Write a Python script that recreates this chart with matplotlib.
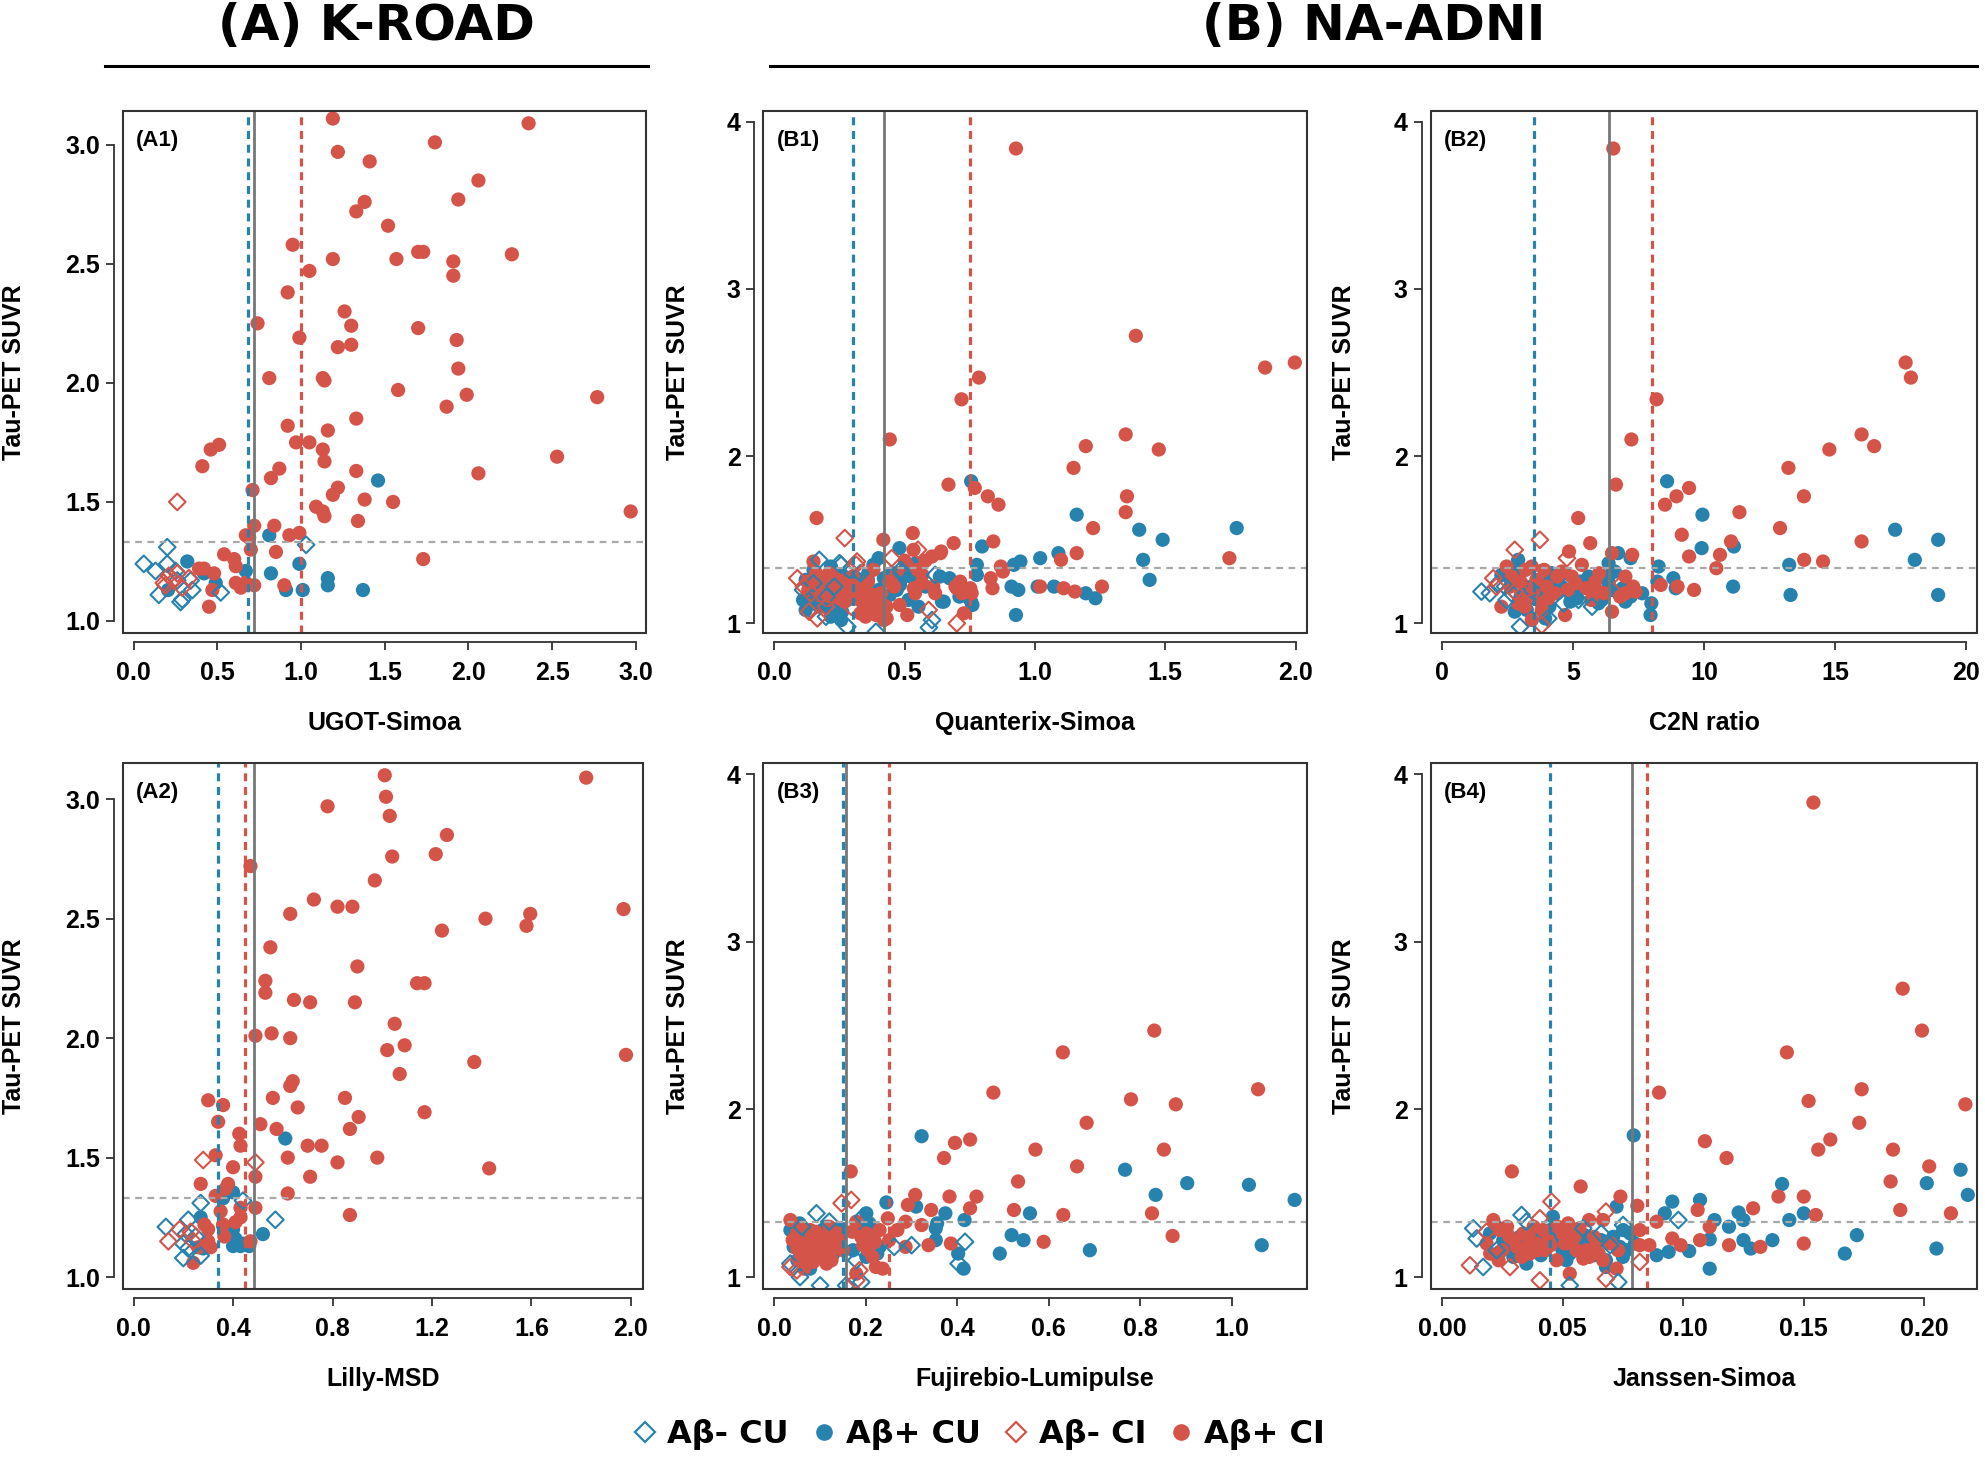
import numpy as np
import matplotlib
matplotlib.use('Agg')
import matplotlib.pyplot as plt
from matplotlib.lines import Line2D
from matplotlib.patches import Rectangle

BLUE = '#2782ae'
RED = '#d5544a'

# threshold of tau-PET positivity
tau_cut = 1.33

# ---------- (A1) K-ROAD, UGOT-Simoa ----------
a1_neg_cu = [(0.06, 1.24), (0.13, 1.21), (0.20, 1.31), (0.20, 1.24), (0.15, 1.11), (0.28, 1.08), (0.29, 1.09),
             (0.34, 1.17), (0.35, 1.13), (0.52, 1.12), (1.03, 1.32), (0.26, 1.17), (0.25, 1.21)]
a1_pos_cu = [(1.46, 1.59), (0.81, 1.36), (0.99, 1.24), (0.82, 1.20), (1.16, 1.18), (1.16, 1.15), (0.91, 1.13),
             (1.01, 1.13), (1.37, 1.13), (0.32, 1.25), (0.205, 1.13), (0.49, 1.16), (0.67, 1.21), (0.42, 1.20)]
a1_neg_ci = [(0.26, 1.50), (0.18, 1.16), (0.21, 1.19), (0.26, 1.20), (0.19, 1.15), (0.29, 1.14), (0.33, 1.18),
             (0.24, 1.17)]
a1_pos_ci = [(1.19, 3.11), (2.36, 3.09), (1.80, 3.01), (1.22, 2.97), (1.41, 2.93), (2.06, 2.85), (1.94, 2.77),
             (1.38, 2.76), (1.33, 2.72), (1.52, 2.66), (0.95, 2.58), (1.70, 2.55), (1.73, 2.55), (2.26, 2.54),
             (1.19, 2.52), (1.57, 2.52), (1.91, 2.51), (1.05, 2.47), (1.91, 2.45), (0.92, 2.38), (1.26, 2.30),
             (0.74, 2.25), (1.30, 2.24), (1.70, 2.23), (0.99, 2.19), (1.93, 2.18), (1.30, 2.16), (1.22, 2.15),
             (1.94, 2.06), (0.81, 2.02), (1.13, 2.02), (1.14, 2.01), (1.58, 1.97), (1.99, 1.95), (2.77, 1.94),
             (1.87, 1.90), (1.33, 1.85), (0.92, 1.82), (1.16, 1.80), (0.97, 1.75), (1.05, 1.75), (0.51, 1.74),
             (0.46, 1.72), (1.13, 1.72), (1.14, 1.67), (2.53, 1.69), (0.41, 1.65), (0.87, 1.64), (1.33, 1.63),
             (2.06, 1.62), (0.82, 1.60), (1.22, 1.56), (0.71, 1.55), (1.19, 1.53), (1.38, 1.51), (1.55, 1.50),
             (1.09, 1.48), (1.13, 1.46), (2.97, 1.46), (1.14, 1.44), (1.34, 1.42), (0.72, 1.40), (0.84, 1.40),
             (0.67, 1.36), (0.69, 1.35), (0.93, 1.36), (0.99, 1.37), (0.70, 1.30), (0.85, 1.29), (0.54, 1.28),
             (0.60, 1.26), (1.73, 1.26), (0.61, 1.23), (0.39, 1.22), (0.42, 1.22), (0.48, 1.20), (0.61, 1.16),
             (0.67, 1.16), (0.72, 1.15), (0.90, 1.15), (0.64, 1.14), (0.47, 1.13), (0.45, 1.06), (0.66, 1.15)]
a1_cuts = (0.68, 0.72, 1.00)   # CU cut-off, overall cut-off, CI cut-off

# ---------- (A2) K-ROAD, Lilly-MSD ----------
a2_neg_cu = [(0.13, 1.21), (0.22, 1.24), (0.27, 1.31), (0.44, 1.32), (0.57, 1.24), (0.20, 1.14), (0.20, 1.08),
             (0.27, 1.09), (0.22, 1.12), (0.21, 1.18), (0.25, 1.17)]
a2_pos_cu = [(0.61, 1.58), (0.40, 1.355), (0.27, 1.25), (0.40, 1.20), (0.41, 1.16), (0.43, 1.13), (0.52, 1.18),
             (0.40, 1.13), (0.28, 1.12), (0.465, 1.13), (0.44, 1.14), (0.36, 1.215), (0.36, 1.33)]
a2_neg_ci = [(0.28, 1.49), (0.49, 1.48), (0.185, 1.20), (0.14, 1.15), (0.23, 1.19), (0.24, 1.15)]
a2_pos_ci = [(1.01, 3.10), (1.82, 3.09), (1.015, 3.01), (0.78, 2.97), (1.03, 2.93), (1.26, 2.85), (1.215, 2.77),
             (1.04, 2.76), (0.47, 2.72), (0.97, 2.66), (0.725, 2.58), (0.82, 2.55), (0.88, 2.55), (1.97, 2.54),
             (0.63, 2.52), (1.595, 2.52), (1.415, 2.50), (1.58, 2.47), (1.24, 2.45), (0.55, 2.38), (0.90, 2.30),
             (0.53, 2.24), (1.14, 2.23), (1.17, 2.23), (0.53, 2.19), (0.645, 2.16), (0.71, 2.15), (0.89, 2.15),
             (1.05, 2.06), (0.49, 2.01), (0.555, 2.02), (0.63, 2.00), (1.09, 1.97), (1.02, 1.95), (1.37, 1.90),
             (1.98, 1.93), (1.07, 1.85), (0.64, 1.82), (0.63, 1.80), (0.30, 1.74), (0.36, 1.72), (0.56, 1.75),
             (0.85, 1.75), (0.66, 1.71), (1.17, 1.69), (0.905, 1.67), (0.34, 1.65), (0.51, 1.64), (0.575, 1.62),
             (0.87, 1.62), (0.425, 1.60), (0.43, 1.55), (0.70, 1.55), (0.756, 1.55), (0.33, 1.51), (0.62, 1.50),
             (0.98, 1.50), (0.82, 1.48), (1.43, 1.455), (0.40, 1.46), (0.49, 1.42), (0.71, 1.42), (0.27, 1.39),
             (0.38, 1.39), (0.37, 1.37), (0.62, 1.35), (0.33, 1.34), (0.43, 1.29), (0.49, 1.29), (0.87, 1.26),
             (0.35, 1.275), (0.43, 1.25), (0.285, 1.22), (0.36, 1.22), (0.30, 1.20), (0.41, 1.23), (0.365, 1.17),
             (0.30, 1.15), (0.31, 1.125), (0.47, 1.15), (0.24, 1.06), (0.26, 1.125)]
a2_cuts = (0.338, 0.486, 0.45)

# ---------- (B1) NA-ADNI, Quanterix-Simoa ----------
b1_neg_cu = [(0.172, 1.38), (0.256, 1.35), (0.11, 1.20), (0.127, 1.14), (0.14, 1.08), (0.198, 1.04), (0.28, 0.98),
             (0.39, 0.95), (0.488, 1.30), (0.617, 1.29), (0.605, 1.02), (0.288, 1.32), (0.593, 0.975), (0.25, 1.36),
             (0.485, 1.32), (0.15, 1.24), (0.20, 1.16), (0.23, 1.22), (0.33, 1.30)]
b1_pos_cu = [(0.755, 1.85), (1.16, 1.65), (1.774, 1.57), (1.40, 1.56), (1.49, 1.50), (0.797, 1.46), (0.48, 1.45),
             (1.09, 1.42), (1.415, 1.38), (1.02, 1.39), (0.944, 1.37), (0.919, 1.35), (0.777, 1.35), (1.44, 1.26),
             (0.777, 1.29), (0.635, 1.28), (0.672, 1.27), (0.91, 1.22), (0.936, 1.20), (1.01, 1.22), (1.073, 1.22),
             (1.195, 1.18), (1.232, 1.15), (0.643, 1.13), (0.71, 1.16), (0.755, 1.13), (0.927, 1.05), (0.40, 1.39),
             (0.543, 1.36), (0.526, 1.28), (0.359, 1.26), (0.346, 1.21), (0.165, 1.28), (0.153, 1.18), (0.19, 1.18),
             (0.14, 1.12), (0.11, 1.14), (0.172, 1.10), (0.243, 1.12), (0.28, 1.14), (0.23, 1.06), (0.217, 1.04),
             (0.256, 1.02), (0.217, 1.34), (0.314, 1.27), (0.40, 1.20), (0.443, 1.17), (0.482, 1.23), (0.50, 1.28),
             (0.58, 1.22), (0.65, 1.13), (0.553, 1.10), (0.515, 1.14), (0.747, 1.15), (0.76, 1.11),
             (0.12, 1.26), (0.15, 1.32), (0.18, 1.14), (0.21, 1.09), (0.24, 1.18), (0.26, 1.29), (0.30, 1.22),
             (0.33, 1.15), (0.36, 1.30), (0.38, 1.35), (0.42, 1.27), (0.45, 1.30), (0.47, 1.20), (0.12, 1.08),
             (0.26, 1.07)]
b1_neg_ci = [(0.27, 1.51), (0.314, 1.35), (0.45, 1.39), (0.088, 1.27), (0.113, 1.22), (0.14, 1.18), (0.133, 1.07),
             (0.165, 1.03), (0.198, 1.10), (0.314, 1.16), (0.295, 1.10), (0.592, 1.08), (0.70, 1.00), (0.551, 1.44),
             (0.317, 1.37)]
b1_pos_ci = [(0.927, 3.84), (1.387, 2.72), (1.883, 2.53), (1.997, 2.56), (0.785, 2.47), (0.718, 2.34), (0.443, 2.10),
             (1.348, 2.13), (1.195, 2.06), (1.475, 2.04), (1.148, 1.93), (0.668, 1.83), (0.769, 1.81), (0.819, 1.76),
             (1.353, 1.76), (0.86, 1.71), (1.348, 1.665), (0.162, 1.63), (1.223, 1.57), (0.531, 1.54), (0.418, 1.50),
             (0.688, 1.48), (0.84, 1.49), (0.64, 1.43), (0.534, 1.44), (1.16, 1.42), (1.746, 1.39), (1.10, 1.38),
             (0.58, 1.375), (0.50, 1.375), (0.869, 1.34), (0.877, 1.31), (0.15, 1.37), (0.568, 1.29), (0.713, 1.25),
             (0.83, 1.27), (0.752, 1.21), (0.535, 1.21), (0.61, 1.22), (0.70, 1.21), (1.02, 1.22), (1.11, 1.21),
             (1.153, 1.19), (1.257, 1.22), (0.481, 1.11), (0.51, 1.05), (0.431, 1.03), (0.727, 1.06), (0.127, 1.25),
             (0.165, 1.22), (0.198, 1.27), (0.23, 1.18), (0.27, 1.19), (0.204, 1.14), (0.243, 1.27), (0.288, 1.20),
             (0.32, 1.18), (0.359, 1.16), (0.385, 1.12), (0.372, 1.09), (0.34, 1.12), (0.41, 1.12), (0.42, 1.02),
             (0.359, 1.25), (0.38, 1.32), (0.46, 1.22), (0.508, 1.35), (0.566, 1.24), (0.54, 1.18), (0.605, 1.40),
             (0.637, 1.42), (0.617, 1.18), (0.695, 1.22), (0.72, 1.18), (0.757, 1.18), (0.837, 1.21), (0.16, 1.30),
             (0.22, 1.23), (0.30, 1.28), (0.25, 1.15), (0.39, 1.14), (0.36, 1.10), (0.40, 1.08), (0.33, 1.06),
             (0.13, 1.20), (0.18, 1.25), (0.21, 1.30), (0.26, 1.24), (0.29, 1.16), (0.31, 1.22), (0.35, 1.19),
             (0.37, 1.14), (0.38, 1.17), (0.40, 1.15), (0.41, 1.18), (0.43, 1.10), (0.39, 1.05), (0.35, 1.04),
             (0.17, 1.17), (0.20, 1.21), (0.27, 1.13), (0.44, 1.25), (0.47, 1.30), (0.55, 1.32)]
b1_cuts = (0.30, 0.42, 0.75)

# ---------- (B2) NA-ADNI, C2N ratio ----------
b2_neg_cu = [(1.51, 1.19), (1.83, 1.18), (2.15, 1.24), (2.41, 1.22), (2.66, 1.18), (2.47, 1.14), (2.98, 0.98),
             (4.06, 1.03), (5.73, 1.10), (4.64, 1.12), (5.21, 1.14), (3.43, 1.20)]
b2_pos_cu = [(8.59, 1.85), (9.94, 1.65), (17.29, 1.56), (18.93, 1.50), (9.91, 1.45), (11.14, 1.46), (13.25, 1.35),
             (18.04, 1.38), (8.27, 1.34), (8.83, 1.27), (11.11, 1.22), (13.30, 1.17), (18.93, 1.17), (7.96, 1.05),
             (7.99, 1.12), (7.2, 1.39), (6.72, 1.42), (8.22, 1.25), (8.92, 1.21), (6.36, 1.36), (6.36, 1.28),
             (6.36, 1.24), (5.98, 1.12), (5.6, 1.28), (5.16, 1.15), (4.9, 1.13), (4.19, 1.30), (4.19, 1.22),
             (2.78, 1.07), (2.91, 1.38), (2.78, 1.31), (3.69, 1.20), (3.94, 1.24), (4.57, 1.22), (7.64, 1.18),
             (7.0, 1.13), (6.49, 1.20), (2.27, 1.29), (3.24, 1.08), (3.94, 1.03),
             (2.4, 1.30), (2.9, 1.25), (3.2, 1.22), (3.5, 1.15), (4.4, 1.18), (4.7, 1.30), (5.3, 1.25),
             (5.8, 1.20), (6.1, 1.14), (6.9, 1.21), (3.0, 1.16), (4.1, 1.10), (5.0, 1.19), (6.6, 1.31),
             (7.2, 1.16)]
b2_neg_ci = [(3.74, 1.50), (2.78, 1.44), (1.96, 1.27), (2.08, 1.22), (2.78, 1.19), (3.10, 1.18), (3.30, 1.28),
             (3.74, 1.30), (3.81, 0.99), (6.87, 1.24), (4.77, 1.39), (3.62, 1.23)]
b2_pos_ci = [(6.54, 3.84), (17.69, 2.56), (17.89, 2.47), (8.19, 2.34), (16.01, 2.13), (16.49, 2.06), (14.78, 2.04),
             (7.23, 2.10), (13.22, 1.93), (6.64, 1.83), (9.43, 1.81), (8.95, 1.76), (13.81, 1.76), (8.51, 1.71),
             (11.35, 1.665), (5.2, 1.63), (12.9, 1.57), (9.15, 1.53), (11.03, 1.49), (16.01, 1.49), (9.43, 1.40),
             (10.61, 1.41), (13.82, 1.38), (14.54, 1.37), (10.47, 1.33), (8.35, 1.23), (8.99, 1.22), (9.62, 1.20),
             (5.66, 1.48), (4.85, 1.43), (2.47, 1.34), (3.43, 1.34), (5.34, 1.35), (6.49, 1.42), (7.26, 1.41),
             (7.0, 1.28), (5.85, 1.25), (5.98, 1.19), (4.96, 1.28), (4.57, 1.31), (4.32, 1.18), (4.06, 1.15),
             (3.81, 1.12), (3.49, 1.19), (3.17, 1.10), (3.43, 1.02), (3.81, 1.08), (4.70, 1.05), (6.49, 1.07),
             (7.0, 1.18), (7.39, 1.19), (2.66, 1.28), (2.27, 1.10),
             (2.6, 1.22), (3.0, 1.25), (3.2, 1.32), (3.6, 1.26), (4.0, 1.22), (4.4, 1.28), (4.8, 1.20),
             (5.1, 1.24), (5.5, 1.21), (6.0, 1.30), (6.2, 1.18), (5.7, 1.14), (3.3, 1.16), (2.9, 1.12),
             (3.9, 1.32), (7.3, 1.22), (6.8, 1.16)]
b2_cuts = (3.52, 6.36, 8.02)

# ---------- (B3) NA-ADNI, Fujirebio-Lumipulse ----------
b3_neg_cu = [(0.092, 1.38), (0.035, 1.08), (0.056, 1.00), (0.10, 0.95), (0.157, 0.95), (0.19, 0.97), (0.262, 1.18),
             (0.30, 1.19), (0.417, 1.21), (0.403, 1.08), (0.179, 1.10), (0.194, 1.36), (0.06, 1.30), (0.12, 1.33)]
b3_pos_cu = [(0.322, 1.84), (0.767, 1.64), (0.903, 1.56), (1.038, 1.55), (1.138, 1.46), (0.834, 1.49), (0.245, 1.445),
             (0.31, 1.42), (0.374, 1.38), (0.559, 1.38), (0.416, 1.34), (0.353, 1.29), (0.353, 1.22), (0.519, 1.25),
             (0.545, 1.22), (0.493, 1.14), (0.69, 1.16), (1.066, 1.19), (0.402, 1.14), (0.414, 1.05), (0.035, 1.28),
             (0.042, 1.18), (0.071, 1.24), (0.092, 1.14), (0.114, 1.30), (0.129, 1.14), (0.143, 1.24), (0.056, 1.16),
             (0.078, 1.05), (0.10, 1.22), (0.201, 1.38), (0.208, 1.32), (0.23, 1.18), (0.201, 1.12), (0.172, 1.16),
             (0.356, 1.32),
             (0.045, 1.24), (0.055, 1.32), (0.06, 1.20), (0.075, 1.13), (0.085, 1.26), (0.095, 1.16), (0.105, 1.28),
             (0.115, 1.21), (0.125, 1.27), (0.135, 1.18), (0.145, 1.29), (0.05, 1.10), (0.185, 1.30), (0.195, 1.22),
             (0.215, 1.27), (0.225, 1.14)]
b3_neg_ci = [(0.147, 1.44), (0.168, 1.46), (0.035, 1.06), (0.049, 1.04), (0.186, 1.04), (0.179, 0.98), (0.071, 1.12)]
b3_pos_ci = [(0.831, 2.47), (0.631, 2.34), (0.479, 2.10), (1.058, 2.12), (0.78, 2.06), (0.878, 2.03), (0.683, 1.92),
             (0.571, 1.76), (0.852, 1.76), (0.395, 1.80), (0.428, 1.82), (0.371, 1.71), (0.662, 1.66), (0.533, 1.57),
             (0.167, 1.63), (0.308, 1.49), (0.383, 1.48), (0.442, 1.48), (0.292, 1.43), (0.343, 1.40), (0.428, 1.41),
             (0.524, 1.40), (0.632, 1.37), (0.826, 1.38), (0.322, 1.31), (0.287, 1.18), (0.337, 1.19), (0.386, 1.20),
             (0.589, 1.21), (0.871, 1.245), (0.035, 1.34), (0.049, 1.26), (0.064, 1.20), (0.078, 1.28), (0.092, 1.18),
             (0.107, 1.24), (0.118, 1.14), (0.129, 1.22), (0.139, 1.26), (0.15, 1.16), (0.056, 1.11), (0.085, 1.09),
             (0.114, 1.08), (0.179, 1.33), (0.201, 1.26), (0.212, 1.20), (0.194, 1.19), (0.222, 1.06), (0.237, 1.05),
             (0.179, 1.02), (0.251, 1.22), (0.248, 1.35), (0.269, 1.28), (0.287, 1.33),
             (0.04, 1.22), (0.06, 1.30), (0.07, 1.15), (0.08, 1.22), (0.09, 1.27), (0.10, 1.12), (0.11, 1.19),
             (0.12, 1.30), (0.13, 1.17), (0.14, 1.21), (0.05, 1.17), (0.065, 1.05), (0.095, 1.21), (0.125, 1.10),
             (0.19, 1.24), (0.205, 1.16), (0.22, 1.21), (0.23, 1.28), (0.215, 1.12), (0.17, 1.27)]
b3_cuts = (0.150, 0.157, 0.25)

# ---------- (B4) NA-ADNI, Janssen-Simoa ----------
b4_neg_cu = [(0.013, 1.29), (0.0144, 1.23), (0.0171, 1.06), (0.033, 1.37), (0.035, 1.33), (0.053, 0.95),
             (0.0586, 1.29), (0.066, 1.26), (0.0697, 1.19), (0.0731, 0.97), (0.0751, 1.31), (0.098, 1.34),
             (0.0227, 1.16)]
b4_pos_cu = [(0.0795, 1.845), (0.141, 1.555), (0.201, 1.56), (0.215, 1.64), (0.218, 1.49), (0.107, 1.46),
             (0.0955, 1.45), (0.150, 1.38), (0.144, 1.34), (0.123, 1.385), (0.125, 1.34), (0.119, 1.30),
             (0.172, 1.25), (0.137, 1.22), (0.125, 1.22), (0.128, 1.17), (0.167, 1.14), (0.205, 1.17), (0.111, 1.05),
             (0.1025, 1.155), (0.111, 1.225), (0.089, 1.13), (0.094, 1.15), (0.0226, 1.30), (0.0254, 1.22),
             (0.0296, 1.12), (0.0323, 1.24), (0.035, 1.08), (0.0378, 1.18), (0.0406, 1.22), (0.0448, 1.28),
             (0.046, 1.36), (0.0475, 1.20), (0.050, 1.16), (0.0516, 1.10), (0.057, 1.22), (0.061, 1.18),
             (0.068, 1.10), (0.068, 1.06), (0.0724, 1.42), (0.0751, 1.28), (0.078, 1.26), (0.0737, 1.18),
             (0.0765, 1.16), (0.0924, 1.38), (0.113, 1.34), (0.0199, 1.26), (0.0268, 1.18),
             (0.024, 1.15), (0.027, 1.26), (0.031, 1.20), (0.034, 1.16), (0.037, 1.26), (0.041, 1.13),
             (0.043, 1.24), (0.049, 1.26), (0.053, 1.14), (0.056, 1.19), (0.059, 1.25), (0.063, 1.13),
             (0.066, 1.22), (0.071, 1.24), (0.075, 1.12), (0.080, 1.20)]
b4_neg_ci = [(0.0116, 1.07), (0.0185, 1.27), (0.0406, 1.35), (0.0454, 1.45), (0.068, 1.39), (0.068, 0.99),
             (0.082, 1.09), (0.0406, 0.98), (0.0282, 1.06)]
b4_pos_ci = [(0.154, 3.83), (0.191, 2.72), (0.199, 2.47), (0.143, 2.34), (0.090, 2.10), (0.174, 2.12), (0.152, 2.05),
             (0.217, 2.03), (0.173, 1.92), (0.109, 1.81), (0.161, 1.82), (0.156, 1.76), (0.187, 1.76), (0.118, 1.71),
             (0.202, 1.66), (0.029, 1.63), (0.186, 1.57), (0.0575, 1.54), (0.1395, 1.48), (0.150, 1.48),
             (0.074, 1.48), (0.19, 1.40), (0.211, 1.38), (0.155, 1.37), (0.106, 1.40), (0.129, 1.41),
             (0.081, 1.425), (0.107, 1.22), (0.119, 1.19), (0.132, 1.18), (0.150, 1.20), (0.0955, 1.23),
             (0.099, 1.19), (0.0213, 1.34), (0.024, 1.28), (0.028, 1.24), (0.031, 1.18), (0.0337, 1.26),
             (0.0365, 1.14), (0.039, 1.20), (0.042, 1.28), (0.043, 1.16), (0.0475, 1.10), (0.050, 1.26),
             (0.0523, 1.32), (0.053, 1.22), (0.0544, 1.27), (0.0558, 1.16), (0.053, 1.02), (0.0586, 1.11),
             (0.061, 1.34), (0.061, 1.12), (0.064, 1.20), (0.0668, 1.10), (0.0668, 1.34), (0.0724, 1.05),
             (0.082, 1.28), (0.082, 1.19), (0.086, 1.19), (0.089, 1.33), (0.111, 1.30), (0.0185, 1.20),
             (0.020, 1.14), (0.0235, 1.10), (0.035, 1.18), (0.045, 1.19),
             (0.025, 1.16), (0.027, 1.30), (0.030, 1.22), (0.033, 1.12), (0.036, 1.24), (0.038, 1.30),
             (0.040, 1.16), (0.044, 1.22), (0.048, 1.30), (0.051, 1.20), (0.055, 1.24), (0.057, 1.29),
             (0.060, 1.16), (0.063, 1.24), (0.065, 1.14), (0.070, 1.20), (0.073, 1.16)]
b4_cuts = (0.045, 0.079, 0.085)

plt.rcParams['font.family'] = ['Liberation Sans', 'DejaVu Sans']
plt.rcParams['font.weight'] = 'bold'

fig = plt.figure(figsize=(19.85, 14.62), dpi=100)


def draw_panel(rect, groups, cuts, xlim, ylim, xticks, yticks, xfmt, yfmt, xlabel, tag, ylab_x):
    ax = fig.add_axes(rect)
    neg_cu, pos_cu, neg_ci, pos_ci = [np.array(g) for g in groups]
    ax.scatter(pos_cu[:, 0], pos_cu[:, 1], s=105, color=BLUE, edgecolors='none', zorder=2)
    ax.scatter(pos_ci[:, 0], pos_ci[:, 1], s=105, color=RED, edgecolors='none', zorder=2)
    ax.scatter(neg_cu[:, 0], neg_cu[:, 1], s=72, marker='D', facecolors='none', edgecolors=BLUE,
               linewidths=1.5, zorder=2)
    ax.scatter(neg_ci[:, 0], neg_ci[:, 1], s=72, marker='D', facecolors='none', edgecolors=RED,
               linewidths=1.5, zorder=2)

    ax.axvline(cuts[0], color=BLUE, ls=(0, (2.5, 1.8)), lw=2.3, zorder=3)
    ax.axvline(cuts[1], color='#777777', lw=2.0, zorder=3)
    ax.axvline(cuts[2], color=RED, ls=(0, (2.5, 1.8)), lw=2.3, zorder=3)
    ax.axhline(tau_cut, color='#a8a8a8', ls=(0, (3, 2.5)), lw=1.6, zorder=3)

    ax.set_xlim(*xlim)
    ax.set_ylim(*ylim)
    ax.set_xticks(xticks)
    ax.set_yticks(yticks)
    ax.set_xticklabels([xfmt.format(v) for v in xticks])
    ax.set_yticklabels([yfmt.format(v) for v in yticks])

    for s in ['top', 'right']:
        ax.spines[s].set_visible(False)
    for s in ['left', 'bottom']:
        ax.spines[s].set_position(('outward', 6.5))
        ax.spines[s].set_color('#333333')
        ax.spines[s].set_linewidth(1.3)
    ax.spines['left'].set_bounds(yticks[0], yticks[-1])
    ax.spines['bottom'].set_bounds(xticks[0], xticks[-1])
    ax.add_patch(Rectangle((0, 0), 1, 1, transform=ax.transAxes, fill=False, ec='#333333', lw=1.5,
                           zorder=4, clip_on=False))

    ax.tick_params(axis='both', direction='out', length=6, width=1.3, color='#333333', labelsize=18)
    ax.tick_params(axis='x', pad=8)
    ax.tick_params(axis='y', pad=4)

    ax.set_xlabel(xlabel, fontsize=18, fontweight='bold')
    ax.xaxis.set_label_coords(0.5, -0.15)
    ax.set_ylabel('Tau-PET SUVR', fontsize=18, fontweight='bold')
    ax.yaxis.set_label_coords(ylab_x, 0.5)
    ax.text(0.025, 0.965, tag, transform=ax.transAxes, ha='left', va='top', fontsize=16, fontweight='bold')
    return ax


row1_b, row1_h = 0.5671, 0.3567
row2_b, row2_h = 0.1186, 0.3593

draw_panel([0.0619, row1_b, 0.2634, row1_h], [a1_neg_cu, a1_pos_cu, a1_neg_ci, a1_pos_ci], a1_cuts,
           (-0.065, 3.06), (0.95, 3.14), [0, 0.5, 1.0, 1.5, 2.0, 2.5, 3.0], [1.0, 1.5, 2.0, 2.5, 3.0],
           '{:.1f}', '{:.1f}', 'UGOT-Simoa', '(A1)', -0.186)
draw_panel([0.3846, row1_b, 0.2736, row1_h], [b1_neg_cu, b1_pos_cu, b1_neg_ci, b1_pos_ci], b1_cuts,
           (-0.042, 2.042), (0.943, 4.062), [0, 0.5, 1.0, 1.5, 2.0], [1, 2, 3, 4],
           '{:.1f}', '{:.0f}', 'Quanterix-Simoa', '(B1)', -0.135)
draw_panel([0.7207, row1_b, 0.2755, row1_h], [b2_neg_cu, b2_pos_cu, b2_neg_ci, b2_pos_ci], b2_cuts,
           (-0.43, 20.43), (0.943, 4.062), [0, 5, 10, 15, 20], [1, 2, 3, 4],
           '{:.0f}', '{:.0f}', 'C2N ratio', '(B2)', -0.137)
draw_panel([0.0619, row2_b, 0.2621, row2_h], [a2_neg_cu, a2_pos_cu, a2_neg_ci, a2_pos_ci], a2_cuts,
           (-0.043, 2.049), (0.952, 3.15), [0, 0.4, 0.8, 1.2, 1.6, 2.0], [1.0, 1.5, 2.0, 2.5, 3.0],
           '{:.1f}', '{:.1f}', 'Lilly-MSD', '(A2)', -0.186)
draw_panel([0.3846, row2_b, 0.2736, row2_h], [b3_neg_cu, b3_pos_cu, b3_neg_ci, b3_pos_ci], b3_cuts,
           (-0.024, 1.164), (0.931, 4.064), [0, 0.2, 0.4, 0.6, 0.8, 1.0], [1, 2, 3, 4],
           '{:.1f}', '{:.0f}', 'Fujirebio-Lumipulse', '(B3)', -0.135)
draw_panel([0.7207, row2_b, 0.2755, row2_h], [b4_neg_cu, b4_pos_cu, b4_neg_ci, b4_pos_ci], b4_cuts,
           (-0.0047, 0.222), (0.931, 4.064), [0, 0.05, 0.10, 0.15, 0.20], [1, 2, 3, 4],
           '{:.2f}', '{:.0f}', 'Janssen-Simoa', '(B4)', -0.137)

# cohort headers with rules underneath
fig.text(0.1894, 0.982, '(A) K-ROAD', ha='center', va='center', fontsize=36, fontweight='bold',
         family='DejaVu Sans')
fig.text(0.692, 0.982, '(B) NA-ADNI', ha='center', va='center', fontsize=36, fontweight='bold',
         family='DejaVu Sans')
fig.add_artist(Line2D([0.053, 0.3265], [0.955, 0.955], color='black', lw=2.2))
fig.add_artist(Line2D([0.3878, 0.9962], [0.955, 0.955], color='black', lw=2.2))

handles = [
    Line2D([], [], ls='none', marker='D', ms=10, mfc='none', mec=BLUE, mew=1.6),
    Line2D([], [], ls='none', marker='o', ms=12, mfc=BLUE, mec='none'),
    Line2D([], [], ls='none', marker='D', ms=10, mfc='none', mec=RED, mew=1.6),
    Line2D([], [], ls='none', marker='o', ms=12, mfc=RED, mec='none'),
]
labels = ['A\u03b2- CU', 'A\u03b2+ CU', 'A\u03b2- CI', 'A\u03b2+ CI']
fig.legend(handles, labels, loc='center', bbox_to_anchor=(0.492, 0.019), ncol=4, frameon=False,
           prop={'family': 'DejaVu Sans', 'weight': 'bold', 'size': 23},
           handletextpad=0.2, columnspacing=0.6, handlelength=1.0)

fig.savefig('out.png', dpi=100)
